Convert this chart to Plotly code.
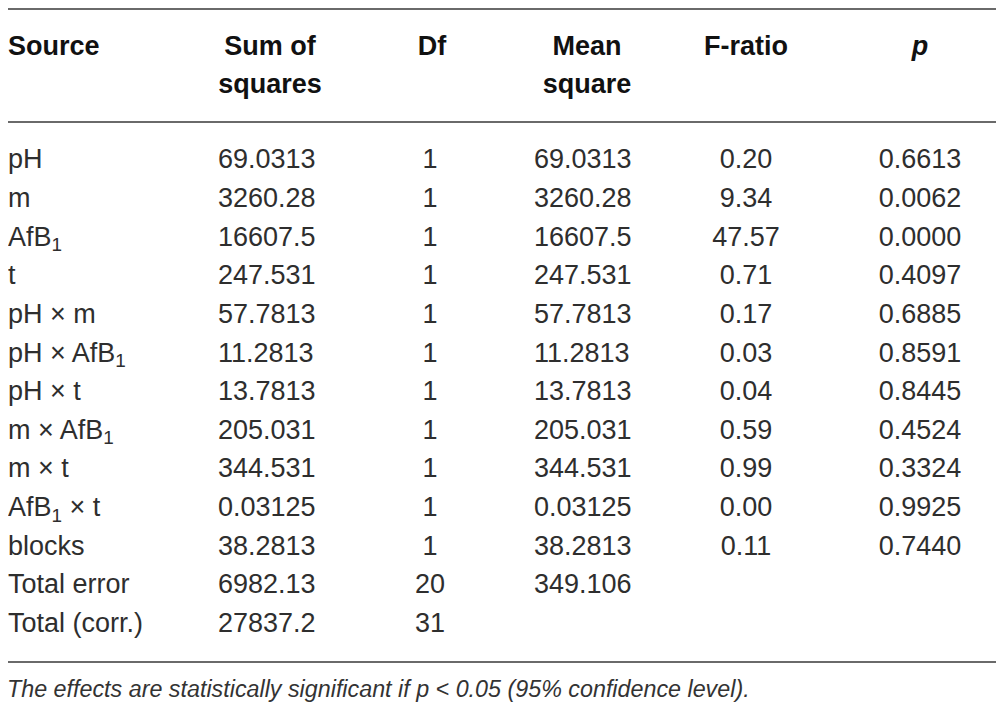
import plotly.graph_objects as go

# Table contents (ANOVA)
sources = ["pH", "m", "AfB<sub>1</sub>", "t", "pH × m", "pH × AfB<sub>1</sub>", "pH × t",
           "m × AfB<sub>1</sub>", "m × t", "AfB<sub>1</sub> × t", "blocks", "Total error", "Total (corr.)"]
sum_sq = ["69.0313", "3260.28", "16607.5", "247.531", "57.7813", "11.2813", "13.7813",
          "205.031", "344.531", "0.03125", "38.2813", "6982.13", "27837.2"]
df = ["1", "1", "1", "1", "1", "1", "1", "1", "1", "1", "1", "20", "31"]
mean_sq = ["69.0313", "3260.28", "16607.5", "247.531", "57.7813", "11.2813", "13.7813",
           "205.031", "344.531", "0.03125", "38.2813", "349.106", ""]
f_ratio = ["0.20", "9.34", "47.57", "0.71", "0.17", "0.03", "0.04", "0.59", "0.99", "0.00", "0.11", "", ""]
p_val = ["0.6613", "0.0062", "0.0000", "0.4097", "0.6885", "0.8591", "0.8445",
         "0.4524", "0.3324", "0.9925", "0.7440", "", ""]

header1 = ["Source", "Sum of", "Df", "Mean", "F-ratio", "<i>p</i>"]
header2 = ["", "squares", "", "square", "", ""]
footnote = "The effects are statistically significant if p < 0.05 (95% confidence level)."

# layout of the table, in window pixels (page body keeps an 8px margin,
# so the figure covers 8..996 x 8..704 of the window)
M = 8
W, H = 1004, 712
col_x = [8, 218, 430, 534, 746, 920]
col_pos = ["middle right", "middle right", "middle center", "middle right", "middle center", "middle center"]
head_x = [8, 270, 432, 587, 746, 920]
head_pos = ["middle right", "middle center", "middle center", "middle center", "middle center", "middle center"]
row0, row_h = 161.5, 38.65
FAM = "Liberation Sans, Arial, sans-serif"
body_font = dict(family=FAM, size=27, color="#2e2e2e")
head_font = dict(family=FAM, size=27, color="#111111")

fig = go.Figure()

columns = [sources, sum_sq, df, mean_sq, f_ratio, p_val]
ys = [row0 + i * row_h for i in range(len(sources))]
for vals, x, pos in zip(columns, col_x, col_pos):
    fig.add_trace(go.Scatter(x=[x] * len(vals), y=ys, text=vals, mode="text",
                             textposition=pos, textfont=body_font, hoverinfo="skip"))

for h1, h2, x, pos in zip(header1, header2, head_x, head_pos):
    fig.add_trace(go.Scatter(x=[x, x], y=[48, 86], text=["<b>%s</b>" % h1, "<b>%s</b>" % h2],
                             mode="text", textposition=pos, textfont=head_font, hoverinfo="skip"))

fig.add_trace(go.Scatter(x=[7], y=[691], text=["<i>" + footnote + "</i>"],
                         mode="text", textposition="middle right",
                         textfont=dict(family=FAM, size=23.3, color="#333333"),
                         hoverinfo="skip"))

# horizontal rules
for yl in [9, 122, 662]:
    fig.add_shape(type="line", x0=0, x1=W, y0=yl, y1=yl, xref="x", yref="y",
                  line=dict(color="#6a6a6a", width=2))

fig.update_layout(width=W - 2 * M, height=H - 2 * M, margin=dict(l=0, r=0, t=0, b=0),
                  plot_bgcolor="white", paper_bgcolor="white", showlegend=False)
fig.update_xaxes(range=[M, W - M], visible=False, fixedrange=True)
fig.update_yaxes(range=[H - M, M], visible=False, fixedrange=True)

fig.write_html("out.html")
